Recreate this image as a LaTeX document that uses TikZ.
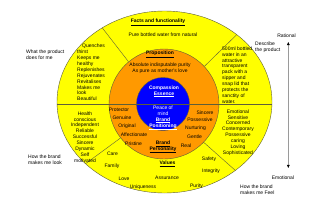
\documentclass[tikz,border=0pt]{standalone}
\usepackage{fontspec}
\setmainfont{Liberation Sans}
\usepackage{xcolor}
\usepackage{tikz}
\usetikzlibrary{shapes.geometric,arrows.meta,positioning}

\definecolor{ringyellow}{HTML}{FFFF00}
\definecolor{ringorange}{HTML}{FF9900}
\definecolor{coreblue}{HTML}{0000FF}
\definecolor{rimline}{HTML}{5E5E3A}
\definecolor{axisgray}{HTML}{9A9A9A}

\tikzset{
  ring/.style={draw=rimline, line width=0.4pt, inner sep=0pt},
  list/.style={inner sep=0pt, align=left},
  stack/.style={inner sep=0pt, align=center},
}

\newcommand{\headtext}[1]{\underline{\textbf{#1}}}

\begin{document}
\begin{tikzpicture}[x=1pt, y=-1pt, font=\fontsize{5}{5.9}\selectfont, inner sep=0pt]
    \useasboundingbox (0,0) rectangle (320,214);
    % rings
    \node[ring, ellipse, fill=ringyellow, minimum width=215pt, minimum height=182pt] (facts) at (164.5,102) {};
    \node[ring, circle, fill=ringorange, minimum size=110pt] (prop) at (164,104) {};
    \node[ring, circle, fill=coreblue, minimum size=53pt] (core) at (163,104) {};
    % dividers
    \draw[rimline, line width=0.4pt] (facts.west |- core) -- (facts.east |- core);
    \foreach \a in {130,43,218,316} {
      \draw[rimline, line width=0.4pt] (prop.\a) -- (facts.\a);
    }
    % outer ring
    \node (factshead) at (158,22) {\headtext{Facts and functionality}};
    \node (factstext) at (163,35) {Pure bottled water from natural};
    \node[list, anchor=west] (doeslist) at (77,72.5) {\hspace*{5pt}Quenches\\thirst\\Keeps me\\healthy\\Replenishes\\Rejuvenates\\Revitalises\\Makes me\\look\\Beautiful};
    \node[list, anchor=west] (packlist) at (222,75) {500ml bottled\\water in an\\attractive\\transparent\\pack with a\\sipper and\\snap lid that\\protects the\\sanctity of\\water.};
    \node[stack] (looklist) at (85,137) {Health\\conscious\\Independent\\Reliable\\Successful\\Sincere\\Dynamic\\Self\\motivated};
    \node[stack] (feellist) at (238,132.5) {Emotional\\Sensitive\\Concerned\\Contemporary\\Possessive\\caring\\Loving\\Sophisticated};
    \node (valueshead) at (167.5,164) {\headtext{Values}};
    \foreach \name/\x/\y in {Care/112.5/154,Family/112/166,Love/124/179,Uniqueness/143/187,Assurance/167/178,Purity/196.5/186,Integrity/211/171,Safety/209/159} {
      \node (v-\name) at (\x,\y) {\name};
    }
    % middle ring
    \node (prophead) at (160,54) {\headtext{Proposition}};
    \node[stack] (proptext) at (160,68) {Absolute indisputable purity\\As pure as mother's love};
    \foreach \name/\x/\y in {Protector/119/110,Genuine/122/118,Original/127/126,Affectionate/134/135,Pristine/133.5/144,Sincere/205/113,Possessive/200/120,Nurturing/195.5/128,Gentle/194.5/137,Real/186/146} {
      \node (p-\name) at (\x,\y) {\name};
    }
    \node[stack] (personality) at (163,147) {\headtext{Brand}\\\headtext{Personality}};
    % core
    \node[stack, text=white] (essence) at (164,91.5) {\textbf{Compassion}\\\headtext{Essence}};
    \node[stack, text=white] (positioning) at (163,118) {Peace of\\mind\\\headtext{Brand}\\\headtext{Positioning}};
    % side labels
    \node[list, anchor=west] (doesfor) at (26,55) {What the product\\does for me};
    \node[list, anchor=west] (lookfor) at (28,159.5) {How the brand\\makes me look};
    \node[list, anchor=west] (describe) at (255,47.5) {Describe\\the product};
    \node[list, anchor=west] (feelfor) at (240,190) {How the brand\\makes me Feel};
    \node (rational) at (286.5,36) {Rational};
    \node (emotional) at (283,178) {Emotional};
    \draw[axisgray, line width=0.5pt, {Triangle[black,length=3pt,width=2.6pt]}-{Triangle[black,length=3pt,width=2.6pt]}]
      ([xshift=1.8pt,yshift=-4pt]rational.south) -- ([xshift=5.3pt,yshift=8pt]emotional.north);
  \end{tikzpicture}
\end{document}
